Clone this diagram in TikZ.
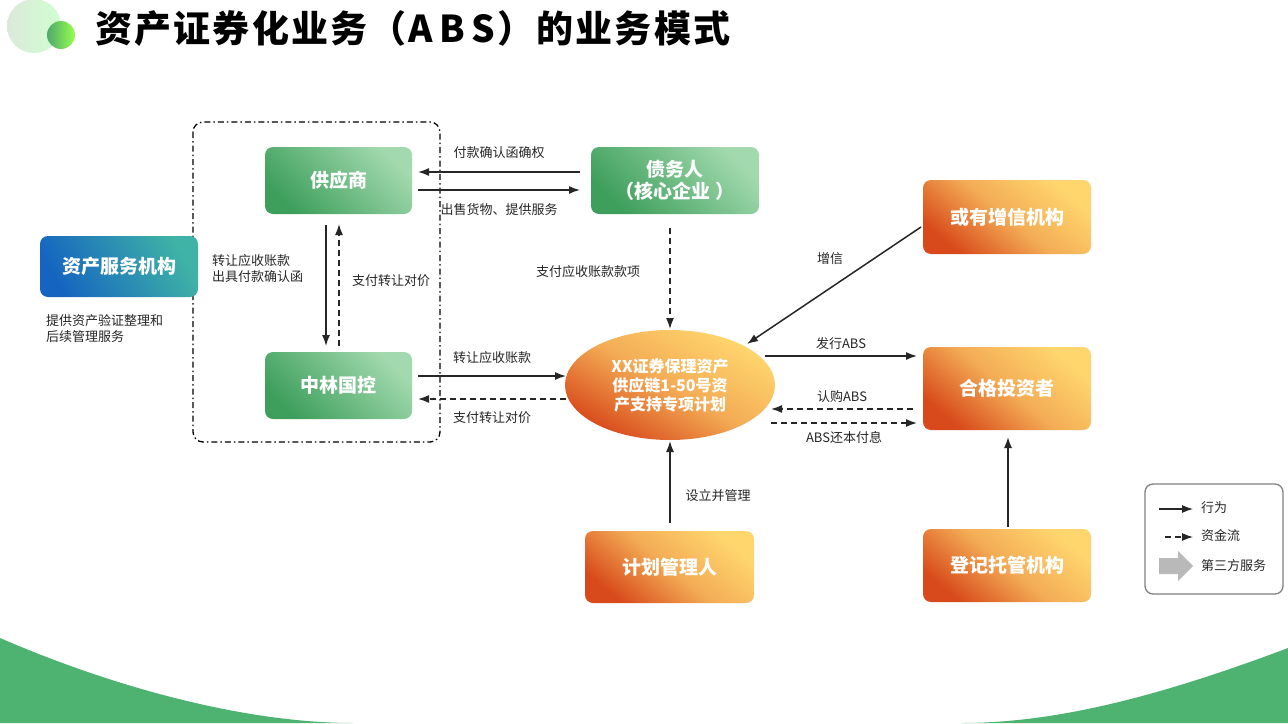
\documentclass[tikz,border=0pt]{standalone}
\usepackage{fontspec}
\setmainfont{Noto Sans CJK SC}
\usetikzlibrary{arrows.meta}
\definecolor{gD}{HTML}{3E9F5C}\definecolor{gL}{HTML}{A2D9AE}
\definecolor{oD}{HTML}{D84A1B}\definecolor{oL}{HTML}{FFD66E}
\definecolor{bD}{HTML}{1565C0}\definecolor{bL}{HTML}{3FB3A6}
\definecolor{band}{HTML}{4EB370}
\begin{document}
\begin{tikzpicture}[x=1pt,y=-1pt,
 box/.style={rounded corners=8pt,text=white,font=\bfseries\fontsize{19}{22}\selectfont,align=center,inner sep=0pt},
 grn/.style={box,bottom color=gD,top color=gL,shading angle=-45},
 org/.style={box,bottom color=oD,top color=oL,middle color=oL!70!oD,shading angle=-40},
 lab/.style={font=\fontsize{13}{16}\selectfont,text=black!85,inner sep=0pt},
 act/.style={-{Latex[length=11pt,width=8pt]},line width=1.5pt,draw=black!85},
 fund/.style={act,dash pattern=on 6pt off 4pt}]
\useasboundingbox (0,0) rectangle (1288,723);
\fill[white] (0,0) rectangle (1288,723);
% bottom band
\fill[band] (0,638) .. controls (120,690) and (250,723) .. (353,723) -- (0,723) -- cycle;
\fill[band] (1288,648) .. controls (1150,700) and (1050,723) .. (961,723) -- (1288,723) -- cycle;
% title decor
\shade[left color=green!25!gray!25,right color=green!20!white,opacity=0.9] (34,26) circle (27);
\shade[left color=gD!90,right color=green!60!yellow!70] (61,35) circle (14);
\node[anchor=west,font=\bfseries\fontsize{37}{40}\selectfont\addfontfeature{LetterSpace=6},inner sep=0pt] (title) at (95,29) {资产证券化业务（A\,B\,S）的业务模式};
% dash-dot frame
\draw[line width=1.3pt,dash pattern=on 6pt off 3pt on 1.5pt off 3pt,rounded corners=10pt] (193,122) rectangle (440,442);
% nodes
\node[grn,minimum width=147pt,minimum height=67pt] (sup) at (338.5,180.5) {供应商};
\node[grn,minimum width=168pt,minimum height=67pt] (debt) at (675,180.5) {债务人\\（核心企业 ）};
\node[grn,minimum width=147pt,minimum height=67pt] (zl) at (338.5,385.5) {中林国控};
\node[box,bottom color=bD,top color=bL,shading angle=-60,minimum width=158pt,minimum height=61pt] (svc) at (119,266.5) {资产服务机构};
\node[org,minimum width=168pt,minimum height=74pt] (cred) at (1007,217) {或有增信机构};
\node[org,minimum width=168pt,minimum height=83pt] (inv) at (1007,388.5) {合格投资者};
\node[org,minimum width=169pt,minimum height=72pt] (mgr) at (669.5,567) {计划管理人};
\node[org,minimum width=168pt,minimum height=73pt] (reg) at (1007,565.5) {登记托管机构};
\shade[bottom color=oD,top color=oL,middle color=oL!70!oD,shading angle=-30] (670,385) ellipse (105 and 55);
\node[box,font=\bfseries\fontsize{16}{19}\selectfont] (plan) at (670,385) {XX证券保理资产\\供应链1-50号资\\产支持专项计划};
\node[lab,align=left,anchor=north west] (svct) at (46,314) {提供资产验证整理和\\后续管理服务};
% arrows
\coordinate (a1) at (580,172);\coordinate (a2) at (418,172);
\draw[act] (a1) -- (a2) node[lab,midway,above=13pt] {付款确认函确权};
\coordinate (b1) at (418,190);\coordinate (b2) at (580,190);
\draw[act] (b1) -- (b2) node[lab,midway,below=13pt] {出售货物、提供服务};
\coordinate (c1) at (326,225);\coordinate (c2) at (326,346);
\draw[act] (c1) -- (c2);
\node[lab,align=left,anchor=west] at (212,269) {转让应收账款\\出具付款确认函};
\coordinate (d1) at (339,346);\coordinate (d2) at (339,224);
\draw[fund] (d1) -- (d2);
\node[lab,anchor=west] at (352,281) {支付转让对价};
\coordinate (e1) at (670,228);\coordinate (e2) at (670,329);
\draw[fund] (e1) -- (e2);
\node[lab] at (588,272) {支付应收账款款项};
\coordinate (f1) at (418,376);\coordinate (f2) at (566,376);
\draw[act] (f1) -- (f2) node[lab,midway,above=12pt] {转让应收账款};
\coordinate (g1) at (566,399);\coordinate (g2) at (418,399);
\draw[fund] (g1) -- (g2) node[lab,midway,below=12pt] {支付转让对价};
\coordinate (h1) at (921,227);\coordinate (h2) at (747,344);
\draw[act] (h1) -- (h2);
\node[lab] at (830,259) {增信};
\coordinate (i1) at (765,356);\coordinate (i2) at (917,356);
\draw[act] (i1) -- (i2) node[lab,midway,above=6pt] {发行ABS};
\coordinate (j1) at (913,409);\coordinate (j2) at (771,409);
\draw[fund] (j1) -- (j2) node[lab,midway,above=6pt] {认购ABS};
\coordinate (k1) at (771,423);\coordinate (k2) at (917,423);
\draw[fund] (k1) -- (k2) node[lab,midway,below=8pt] {ABS还本付息};
\coordinate (l1) at (670,523);\coordinate (l2) at (670,441);
\draw[act] (l1) -- (l2);
\node[lab] at (718,496) {设立并管理};
\coordinate (m1) at (1008,527);\coordinate (m2) at (1008,437);
\draw[act] (m1) -- (m2);
% legend
\draw[line width=1.3pt,draw=gray,rounded corners=8pt] (1145,484) rectangle (1283,594);
\coordinate (n1) at (1159,509);\coordinate (n2) at (1193,509);
\draw[act,line width=1.2pt] (n1) -- (n2);
\node[lab,anchor=west] at (1201,508) {行为};
\coordinate (o1) at (1165,537);\coordinate (o2) at (1193,537);
\draw[fund,line width=1.2pt,dash pattern=on 6pt off 4pt] (o1) -- (o2);
\node[lab,anchor=west] at (1201,536) {资金流};
\fill[gray!55] (1159,558) -- (1178,558) -- (1178,551) -- (1193,566) -- (1178,581) -- (1178,574) -- (1159,574) -- cycle;
\node[lab,anchor=west] at (1201,566) {第三方服务};
\end{tikzpicture}
\end{document}
